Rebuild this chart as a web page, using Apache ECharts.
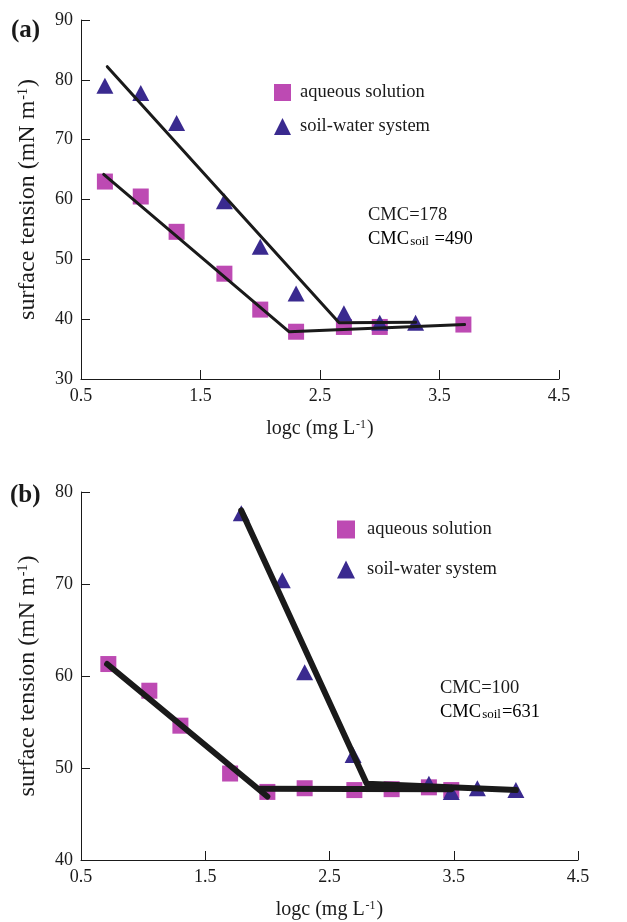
<!DOCTYPE html>
<html>
<head>
<meta charset="utf-8">
<script src="https://cdn.jsdelivr.net/npm/echarts@6/dist/echarts.min.js"></script>
<style>
html, body { margin: 0; padding: 0; background: #fff; }
#main { width: 627px; height: 922px; }
</style>
</head>
<body>
<div id="main"></div>
<script>
// panel (a) measured points: [logc, surface tension]
var aqueousA = [[0.7, 63.0], [1.0, 60.5], [1.3, 54.6], [1.7, 47.6], [2.0, 41.6], [2.3, 37.9], [2.7, 38.7], [3.0, 38.7], [3.7, 39.1]];
var soilA = [[0.7, 79.0], [1.0, 77.8], [1.3, 72.8], [1.7, 59.7], [2.0, 52.1], [2.3, 44.3], [2.7, 41.0], [3.0, 39.4], [3.3, 39.4]];
// panel (a) fitted lines
var aqueousFitA = [[0.69, 64.2], [2.24, 37.9], [3.71, 39.1]];
var soilFitA = [[0.72, 82.2], [2.66, 39.4], [3.3, 39.5]];

// panel (b) measured points
var aqueousB = [[0.72, 61.3], [1.05, 58.4], [1.3, 54.6], [1.7, 49.4], [2.0, 47.4], [2.3, 47.8], [2.7, 47.6], [3.0, 47.7], [3.3, 47.9], [3.48, 47.6]];
var soilB = [[1.79, 77.7], [2.12, 70.4], [2.3, 60.4], [2.69, 51.4], [3.3, 48.3], [3.48, 47.4], [3.69, 47.8], [4.0, 47.6]];
// panel (b) fitted lines
var aqueousFitB = [[0.71, 61.3], [2.0, 46.9]];
var aqueousFlatB = [[1.94, 47.75], [3.48, 47.7]];
var soilFitB = [[1.79, 78.0], [2.8, 48.3], [4.0, 47.6]];

var xTicks = [0.5, 1.5, 2.5, 3.5, 4.5];

var serif = "'Liberation Serif', 'DejaVu Serif', serif";
var sqColor = '#bd4ab3';
var triColor = '#3a2a8f';
var ink = '#1a1a1a';

var chart = echarts.init(document.getElementById('main'));

function xAxisOf(idx){
	return {
		gridIndex: idx,
		type: 'value',
		min: 0.5, max: 4.5, interval: 1,
		name: '{n|logc (mg L}{s|-1}{n|)}',
		nameLocation: 'middle',
		nameGap: 40,
		nameTextStyle: {
			rich: {
				n: {fontFamily: serif, fontSize: 20, color: ink},
				s: {fontFamily: serif, fontSize: 12, color: ink, verticalAlign: 'top', padding: [0, 1, 6, 1]}
			}
		},
		axisLine: {lineStyle: {color: ink, width: 1}},
		axisTick: {inside: true, length: 9, lineStyle: {color: ink}},
		axisLabel: {
			fontFamily: serif, fontSize: 18, color: ink, margin: 8,
			formatter: function(v){ return xTicks.indexOf(v) >= 0 ? v.toFixed(1) : ''; }
		},
		splitLine: {show: false}
	};
}
function yAxisOf(idx, min, max){
	return {
		gridIndex: idx,
		type: 'value',
		min: min, max: max, interval: 10,
		name: '{n|surface tension (mN m}{s|-1}{n|)}',
		nameLocation: 'middle',
		nameRotate: 90,
		nameGap: 41,
		nameTextStyle: {
			rich: {
				n: {fontFamily: serif, fontSize: 24, color: ink},
				s: {fontFamily: serif, fontSize: 14, color: ink, verticalAlign: 'top', padding: [0, 1, 8, 1]}
			}
		},
		axisLine: {show: true, lineStyle: {color: ink, width: 1}},
		axisTick: {show: true, inside: true, length: 9, lineStyle: {color: ink}},
		axisLabel: {fontFamily: serif, fontSize: 18, color: ink, margin: 8},
		splitLine: {show: false}
	};
}
function pts(name, data, idx){
	var sq = name == 'aqueous solution';
	return {
		name: name,
		type: 'scatter',
		xAxisIndex: idx, yAxisIndex: idx,
		symbol: sq ? 'rect' : 'triangle',
		symbolSize: sq ? 16 : [17, 16],
		itemStyle: {color: sq ? sqColor : triColor, opacity: 1},
		data: data,
		z: 2
	};
}
function fit(data, idx, w){
	return {
		type: 'line',
		xAxisIndex: idx, yAxisIndex: idx,
		data: data,
		symbol: 'none',
		silent: true,
		lineStyle: {color: ink, width: w, cap: 'round', join: 'round'},
		z: 3
	};
}
function legendOf(left, top, size, gap, pad){
	return {
		orient: 'vertical',
		left: left, top: top,
		padding: 0,
		itemWidth: size, itemHeight: size, itemGap: gap,
		data: [{name: 'aqueous solution', icon: 'rect'}, {name: 'soil-water system', icon: 'triangle'}],
		textStyle: {fontFamily: serif, fontSize: 18.5, color: ink, padding: [0, 0, 0, pad]}
	};
}
function cmcText(x, y, line1, line2, subPad){
	return [{
		type: 'text', x: x, y: y,
		style: {text: line1, fontFamily: serif, fontSize: 18.5, fill: ink, verticalAlign: 'middle'}
	}, {
		type: 'text', x: x, y: y + 24,
		style: {
			text: line2,
			verticalAlign: 'middle',
			rich: {
				m: {fontFamily: serif, fontSize: 18.5, color: ink},
				s: {fontFamily: serif, fontSize: 13, color: ink, verticalAlign: 'bottom', padding: [subPad, 1, 0, 1]}
			}
		}
	}];
}

var option = {
	animation: false,
	backgroundColor: '#fff',
	grid: [
		{left: 81, top: 20, width: 478, height: 359},
		{left: 81, top: 492, width: 497, height: 368}
	],
	xAxis: [xAxisOf(0), xAxisOf(1)],
	yAxis: [yAxisOf(0, 30, 90), yAxisOf(1, 40, 80)],
	legend: [legendOf(274, 83, 17, 15, 4), legendOf(337, 520, 18, 21, 7)],
	graphic: [
		{type: 'text', x: 11, y: 31, style: {text: '(a)', fontFamily: serif, fontSize: 25, fontWeight: 'bold', fill: ink, verticalAlign: 'middle'}},
		{type: 'text', x: 10, y: 496, style: {text: '(b)', fontFamily: serif, fontSize: 25, fontWeight: 'bold', fill: ink, verticalAlign: 'middle'}}
	].concat(
		cmcText(368, 215, 'CMC=178', '{m|CMC}{s|soil}{m| =490}', 0),
		cmcText(440, 688, 'CMC=100', '{m|CMC}{s|soil}{m|=631}', 0)
	),
	series: [
		pts('aqueous solution', aqueousA, 0),
		pts('soil-water system', soilA, 0),
		fit(aqueousFitA, 0, 3),
		fit(soilFitA, 0, 3),
		pts('aqueous solution', aqueousB, 1),
		pts('soil-water system', soilB, 1),
		fit(aqueousFitB, 1, 6),
		fit(aqueousFlatB, 1, 6),
		fit(soilFitB, 1, 6)
	]
};
chart.setOption(option);
</script>
</body>
</html>
